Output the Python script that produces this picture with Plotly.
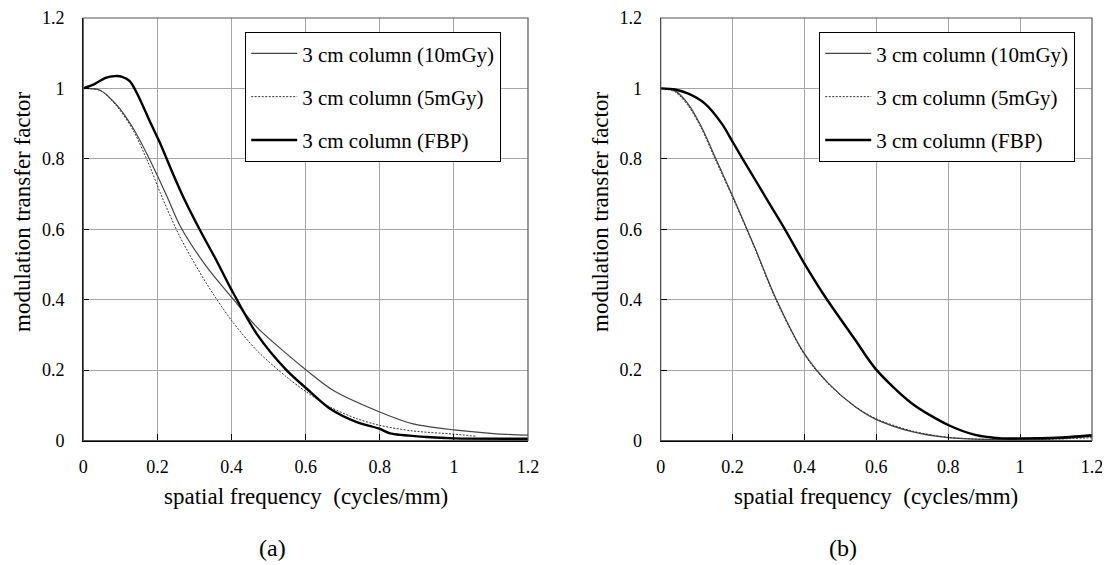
import plotly.graph_objects as go

# ---------------- data (a) ----------------
a_10_x = [0, 0.045, 0.09, 0.135, 0.18, 0.225, 0.261, 0.333, 0.40, 0.468, 0.549, 0.603, 0.675, 0.80, 0.89, 1.0, 1.115, 1.2]
a_10_y = [1.0, 0.995, 0.953, 0.886, 0.796, 0.695, 0.61, 0.493, 0.407, 0.322, 0.246, 0.199, 0.142, 0.081, 0.047, 0.030, 0.019, 0.015]

a_5_x = [0, 0.045, 0.09, 0.135, 0.18, 0.207, 0.261, 0.333, 0.40, 0.468, 0.549, 0.603, 0.666, 0.738, 0.80, 0.89, 1.0, 1.06]
a_5_y = [1.0, 0.995, 0.95, 0.88, 0.777, 0.705, 0.578, 0.445, 0.341, 0.256, 0.18, 0.137, 0.095, 0.062, 0.043, 0.027, 0.018, 0.012]

a_fbp_x = [0, 0.03, 0.06, 0.085, 0.105, 0.126, 0.15, 0.18, 0.207, 0.243, 0.275, 0.315, 0.36, 0.40, 0.468, 0.549, 0.603, 0.666, 0.738, 0.80, 0.828, 0.926, 1.0, 1.2]
a_fbp_y = [1.0, 1.012, 1.03, 1.035, 1.033, 1.02, 0.975, 0.905, 0.845, 0.755, 0.68, 0.597, 0.51, 0.428, 0.303, 0.199, 0.147, 0.09, 0.052, 0.033, 0.02, 0.01, 0.006, 0.005]

# ---------------- data (b) ----------------
b_10_x = [0, 0.04, 0.077, 0.114, 0.151, 0.202, 0.262, 0.318, 0.399, 0.466, 0.541, 0.599, 0.699, 0.80, 0.91, 1.0, 1.1, 1.2]
b_10_y = [1.0, 0.993, 0.955, 0.89, 0.806, 0.69, 0.548, 0.409, 0.248, 0.163, 0.096, 0.06, 0.025, 0.008, 0.003, 0.003, 0.005, 0.012]

b_5_x = [0, 0.04, 0.077, 0.114, 0.151, 0.202, 0.262, 0.318, 0.399, 0.466, 0.541, 0.599, 0.699, 0.80, 0.91, 1.0, 1.1, 1.2]
b_5_y = [1.0, 0.99, 0.95, 0.885, 0.80, 0.686, 0.545, 0.405, 0.245, 0.161, 0.097, 0.062, 0.027, 0.009, 0.003, 0.002, 0.004, 0.008]

b_fbp_x = [0, 0.04, 0.077, 0.123, 0.17, 0.202, 0.235, 0.262, 0.30, 0.346, 0.399, 0.457, 0.541, 0.599, 0.698, 0.80, 0.875, 0.949, 1.0, 1.1, 1.2]
b_fbp_y = [1.0, 0.997, 0.985, 0.957, 0.9, 0.845, 0.788, 0.742, 0.677, 0.599, 0.504, 0.409, 0.286, 0.202, 0.106, 0.044, 0.016, 0.006, 0.006, 0.008, 0.015]

names = ["3 cm column (10mGy)", "3 cm column (5mGy)", "3 cm column (FBP)"]
x_ticks = [0, 0.2, 0.4, 0.6, 0.8, 1.0, 1.2]
x_ticktext = ["0", "0.2", "0.4", "0.6", "0.8", "1", "1.2"]
y_ticks = [0, 0.2, 0.4, 0.6, 0.8, 1.0, 1.2]
y_ticktext = ["0", "0.2", "0.4", "0.6", "0.8", "1", "1.2"]
panel_labels = ["(a)", "(b)"]
x_title = "spatial frequency  (cycles/mm)"
y_title = "modulation transfer factor"

FONT = "Times New Roman"
# page body has an 8px margin: figure is drawn offset by (8, 8)
OFF = 8
W, H = 1110 - OFF, 565 - OFF

def px(x):
    return (x - OFF) / W

def py(y):
    return 1 - (y - OFF) / H

fig = go.Figure()

styles = [
    dict(color="#444444", width=1.2, dash="solid"),
    dict(color="#333333", width=1.0, dash="2px,1.5px"),
    dict(color="#000000", width=2.4, dash="solid"),
]

panels = [
    ((a_10_x, a_10_y), (a_5_x, a_5_y), (a_fbp_x, a_fbp_y)),
    ((b_10_x, b_10_y), (b_5_x, b_5_y), (b_fbp_x, b_fbp_y)),
]

for p, series in enumerate(panels):
    xa = "x" if p == 0 else "x2"
    ya = "y" if p == 0 else "y2"
    leg = "legend" if p == 0 else "legend2"
    for i, (xs, ys) in enumerate(series):
        fig.add_trace(go.Scatter(
            x=xs, y=ys, mode="lines", name=names[i],
            line=dict(shape="spline", smoothing=0.8, **styles[i]),
            xaxis=xa, yaxis=ya, legend=leg,
            legendgroup=f"g{p}{i}",
        ))

x_dom = [[px(83.3), px(528)], [px(660.7), px(1092)]]
y_dom = [py(440.5), py(18)]

axis_common = dict(
    showgrid=True, gridcolor="#a6a6a6", gridwidth=1,
    showline=True, linecolor="#000000", linewidth=1.2,
    ticks="inside", ticklen=6, tickcolor="#000000", tickwidth=1,
    tickfont=dict(family=FONT, size=18, color="#000000"),
    zeroline=False, automargin=False,
)

fig.update_layout(
    xaxis=dict(domain=x_dom[0], range=[0, 1.2], tickvals=x_ticks, ticktext=x_ticktext,
               anchor="y", ticklabelstandoff=10, **axis_common),
    yaxis=dict(domain=y_dom, range=[0, 1.2], tickvals=y_ticks, ticktext=y_ticktext,
               anchor="x", ticklabelstandoff=14, **axis_common),
    xaxis2=dict(domain=x_dom[1], range=[0, 1.2], tickvals=x_ticks, ticktext=x_ticktext,
                anchor="y2", ticklabelstandoff=10, **axis_common),
    yaxis2=dict(domain=y_dom, range=[0, 1.2], tickvals=y_ticks, ticktext=y_ticktext,
                anchor="x2", ticklabelstandoff=14, **axis_common),
    width=W, height=H,
    margin=dict(l=0, r=0, t=0, b=0, autoexpand=False),
    paper_bgcolor="white", plot_bgcolor="white",
    font=dict(family=FONT, color="#000000"),
    showlegend=True,
)

legend_common = dict(
    xanchor="left", yanchor="top",
    bgcolor="white", bordercolor="#000000", borderwidth=1.2,
    font=dict(family=FONT, size=21, color="#000000"),
    tracegroupgap=13,
    itemwidth=46,
)
fig.update_layout(
    legend=dict(x=px(245), y=py(32), **legend_common),
    legend2=dict(x=px(819), y=py(32), **legend_common),
)

for p in range(2):
    xs = "x domain" if p == 0 else "x2 domain"
    ys = "y domain" if p == 0 else "y2 domain"
    fig.add_shape(type="rect", xref=xs, yref=ys, x0=0, x1=1, y0=0, y1=1,
                  line=dict(color="#555555", width=1.2), layer="above")

for p in range(2):
    cx = (x_dom[p][0] + x_dom[p][1]) / 2
    fig.add_annotation(text=x_title, x=cx, y=py(497), xref="paper", yref="paper",
                       showarrow=False, font=dict(family=FONT, size=23, color="#000000"),
                       xanchor="center", yanchor="middle")
    fig.add_annotation(text=panel_labels[p], x=px(272 if p == 0 else 843), y=py(548),
                       xref="paper", yref="paper", showarrow=False,
                       font=dict(family=FONT, size=24, color="#000000"),
                       xanchor="center", yanchor="middle")
    fig.add_annotation(text=y_title, x=px(23 if p == 0 else 601), y=py(212),
                       xref="paper", yref="paper", showarrow=False, textangle=-90,
                       font=dict(family=FONT, size=23, color="#000000"),
                       xanchor="center", yanchor="middle")

fig.write_html("out.html")
